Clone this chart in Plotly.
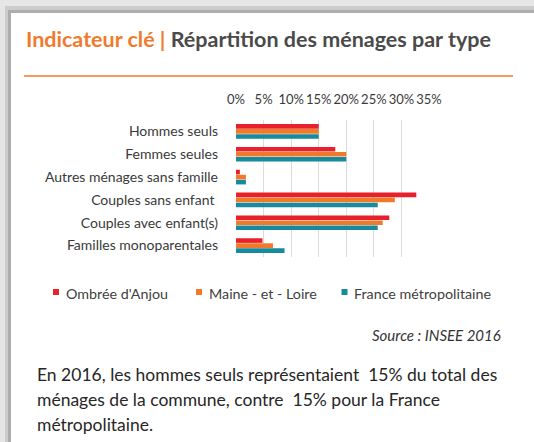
import plotly.graph_objects as go

categories = ["Hommes seuls", "Femmes seules", "Autres ménages sans famille",
              "Couples sans enfant ", "Couples avec enfant(s)", "Familles monoparentales"]
series_names = ["Ombrée d'Anjou", "Maine - et - Loire", "France métropolitaine"]
ombree = [15, 18, 0.7, 32.7, 27.8, 4.8]
maine = [15, 20, 1.8, 28.8, 26.6, 6.7]
france = [15, 20, 1.8, 25.7, 25.7, 8.8]
series_values = [ombree, maine, france]
colors = ["#E8202B", "#F07A2A", "#178A9E"]
tick_vals = [0, 5, 10, 15, 20, 25, 30, 35]
tick_text = ["0%", "5%", "10%", "15%", "20%", "25%", "30%", "35%"]

W, H = 534, 442
L, R, T, B = 236, 429, 120, 257
FONT = "Lato"


def px(x):
    return (x - L) / (R - L)


def py(y):
    return (B - y) / (B - T)


fig = go.Figure()
for name, vals, col in zip(series_names, series_values, colors):
    fig.add_trace(go.Bar(y=categories, x=vals, name=name, orientation="h",
                         marker=dict(color=col, line=dict(width=0)),
                         showlegend=False))

shapes = []
# page background / shadow
shapes.append(dict(type="rect", xref="paper", yref="paper", x0=px(0), x1=px(W), y0=py(0), y1=py(H),
                   fillcolor="#e6e6e6", line=dict(width=0), layer="below"))
shapes.append(dict(type="rect", xref="paper", yref="paper", x0=px(5), x1=px(W), y0=py(6), y1=py(H),
                   fillcolor="#cccccc", line=dict(width=0), layer="below"))
shapes.append(dict(type="rect", xref="paper", yref="paper", x0=px(8), x1=px(W), y0=py(10), y1=py(H),
                   fillcolor="#adadad", line=dict(width=0), layer="below"))
shapes.append(dict(type="rect", xref="paper", yref="paper", x0=px(11), x1=px(W), y0=py(13), y1=py(H),
                   fillcolor="#ffffff", line=dict(width=0), layer="below"))
# orange rule
shapes.append(dict(type="line", xref="paper", yref="paper", x0=px(24), x1=px(513), y0=py(76), y1=py(76),
                   line=dict(color="#F59A5E", width=2)))

annotations = []
annotations.append(dict(xref="paper", yref="paper", x=px(24), y=py(38.5), xanchor="left", yanchor="middle",
                        showarrow=False,
                        text="<b><span style='color:#F07A2E'>Indicateur clé | </span>Répartition des ménages par type</b>",
                        font=dict(family=FONT, size=21.5, color="#4a4a4a")))
# legend
leg_x = [56, 199, 344.5]
for name, col, lx in zip(series_names, colors, leg_x):
    shapes.append(dict(type="rect", xref="paper", yref="paper", x0=px(lx - 3), x1=px(lx + 3),
                       y0=py(289), y1=py(295), fillcolor=col, line=dict(width=0)))
    annotations.append(dict(xref="paper", yref="paper", x=px(lx + 7.5), y=py(293.5), xanchor="left",
                            yanchor="middle", showarrow=False, text=name,
                            font=dict(family=FONT, size=14.3, color="#404040")))
annotations.append(dict(xref="paper", yref="paper", x=px(503), y=py(335), xanchor="right", yanchor="middle",
                        showarrow=False, text="<i>Source : INSEE 2016</i>",
                        font=dict(family=FONT, size=15, color="#333333")))
para = ["En 2016, les hommes seuls représentaient  15% du total des",
        "ménages de la commune, contre  15% pour la France",
        "métropolitaine."]
para_y = [374.5, 399, 424]
for line, ly in zip(para, para_y):
    annotations.append(dict(xref="paper", yref="paper", x=px(35), y=py(ly), xanchor="left",
                            yanchor="middle", showarrow=False, text=line,
                            font=dict(family=FONT, size=17.5, color="#262626")))

fig.update_layout(
    width=W, height=H,
    margin=dict(l=L, r=W - R, t=T, b=H - B, pad=0),
    paper_bgcolor="white", plot_bgcolor="rgba(0,0,0,0)",
    barmode="group", bargap=0.34, bargroupgap=0.08,
    shapes=shapes, annotations=annotations,
    font=dict(family=FONT, color="#404040"),
    xaxis=dict(side="top", range=[0, 35], tickvals=tick_vals, ticktext=tick_text,
               showgrid=True, gridcolor="#dcdcdc", gridwidth=1, zeroline=False,
               showline=False, ticks="", ticklabelstandoff=12,
               tickfont=dict(family=FONT, size=13, color="#3a3a3a"), fixedrange=True),
    yaxis=dict(autorange="reversed", showgrid=False, zeroline=False, showline=False,
               ticks="", ticklabelstandoff=17,
               tickfont=dict(family=FONT, size=14, color="#3a3a3a"), fixedrange=True),
)

fig.write_html("out.html", config={"displayModeBar": False},
               post_script="document.body.style.margin='0';document.body.style.overflow='hidden';")
